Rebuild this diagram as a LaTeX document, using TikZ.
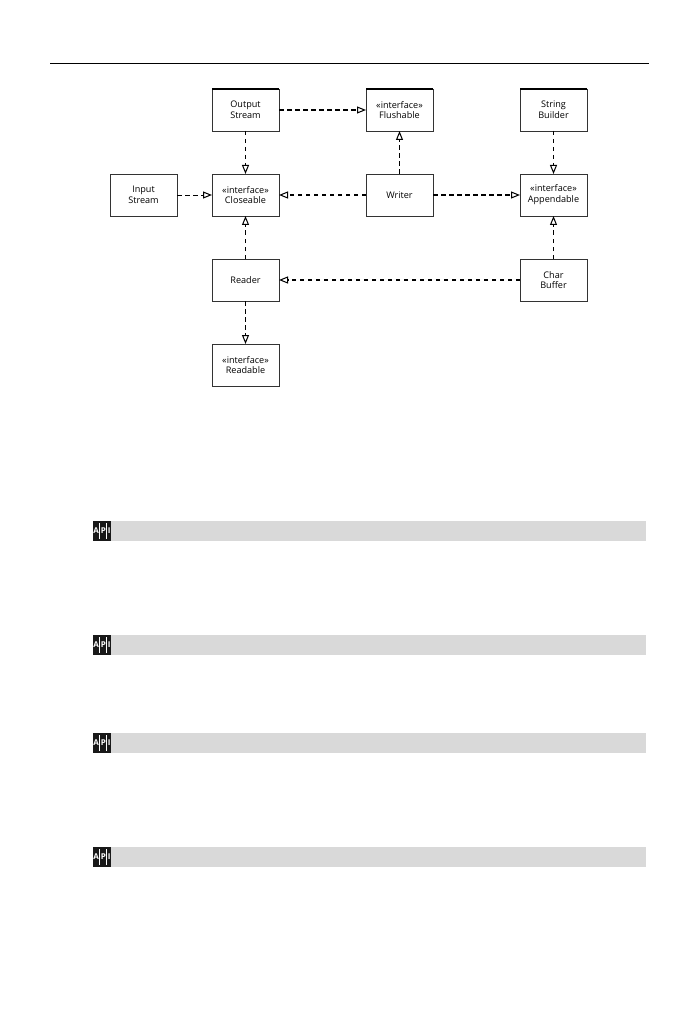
\documentclass[tikz,border=0pt]{standalone}
\usepackage{fontspec}
\setmainfont{Open Sans}
\usetikzlibrary{arrows.meta}
\definecolor{barg}{gray}{0.85}
\definecolor{inkc}{gray}{0.2}
\tikzset{
  box/.style={draw=inkc,line width=0.95pt,fill=white,minimum width=67pt,minimum height=42pt,inner sep=0pt,outer sep=0pt,align=center,font=\fontsize{9.1pt}{10.8pt}\selectfont,text=black},
  thintop/.style={draw=black,line width=1.7pt},
  dep/.style={draw=black,line width=1.1pt,dash pattern=on 4.5pt off 3.5pt,-{Triangle[open,fill=white,length=9pt,width=7pt,line width=1pt,sep=0pt]}},
  depv/.style={dep,line width=1.4pt},
  depthin/.style={dep,line width=0.85pt},
  bar/.style={fill=barg,draw=none,minimum width=553pt,minimum height=20pt,inner sep=0pt,outer sep=0pt,anchor=north west},
  apiicon/.style={fill=black!90,draw=none,minimum width=18pt,minimum height=20pt,inner sep=0pt,outer sep=0pt,anchor=north west,text=white,font=\fontsize{8pt}{8pt}\selectfont\bfseries},
  iconbar/.style={draw=white,line width=0.9pt},
  rule/.style={draw=black,line width=1.1pt}
}
\begin{document}
\begin{tikzpicture}[x=1pt,y=-1pt]
\useasboundingbox (0,0) rectangle (698,1016);
\fill[white] (0,0) rectangle (698,1016);
\coordinate (ruleL) at (50,63.5);
\coordinate (ruleR) at (649,63.5);
\draw[rule] (ruleL) -- (ruleR);
\node[box] (output) at (245.5,110) {Output\\Stream};
\node[box] (flush) at (399.5,110) {«interface»\\Flushable};
\node[box] (sb) at (553.5,110) {String\\Builder};
\node[box] (input) at (143.5,195) {Input\\Stream};
\node[box] (close) at (245.5,195) {«interface»\\Closeable};
\node[box] (writer) at (399.5,195) {Writer};
\node[box] (append) at (553.5,195) {«interface»\\Appendable};
\node[box] (reader) at (245.5,280) {Reader};
\node[box] (cbuf) at (553.5,280) {Char\\Buffer};
\node[box] (readable) at (245.5,365) {«interface»\\Readable};
\draw[thintop] (output.north west) -- (output.north east);
\draw[thintop] (flush.north west) -- (flush.north east);
\draw[thintop] (sb.north west) -- (sb.north east);
\draw[dep] (output) -- (flush);
\draw[depv] (output) -- (close);
\draw[depthin] (input) -- (close);
\draw[dep] (writer) -- (close);
\draw[depv] (writer) -- (flush);
\draw[dep] (writer) -- (append);
\draw[depthin] (sb) -- (append);
\draw[depthin] (cbuf) -- (append);
\draw[dep] (reader) -- (close);
\draw[dep] (cbuf) -- (reader);
\draw[depv] (reader) -- (readable);
\foreach \n/\y in {a/521,b/635,c/733,d/847}{
  \node[bar] (bar\n) at (93,\y) {};
  \node[apiicon] (icon\n) at (93,\y) {A\kern2pt P\kern2pt I};
  \draw[iconbar] ([xshift=6.3pt,yshift=-8pt]icon\n.west) -- ([xshift=6.3pt,yshift=8pt]icon\n.west);
  \draw[iconbar] ([xshift=13pt,yshift=-8pt]icon\n.west) -- ([xshift=13pt,yshift=8pt]icon\n.west);
}
\end{tikzpicture}
\end{document}
